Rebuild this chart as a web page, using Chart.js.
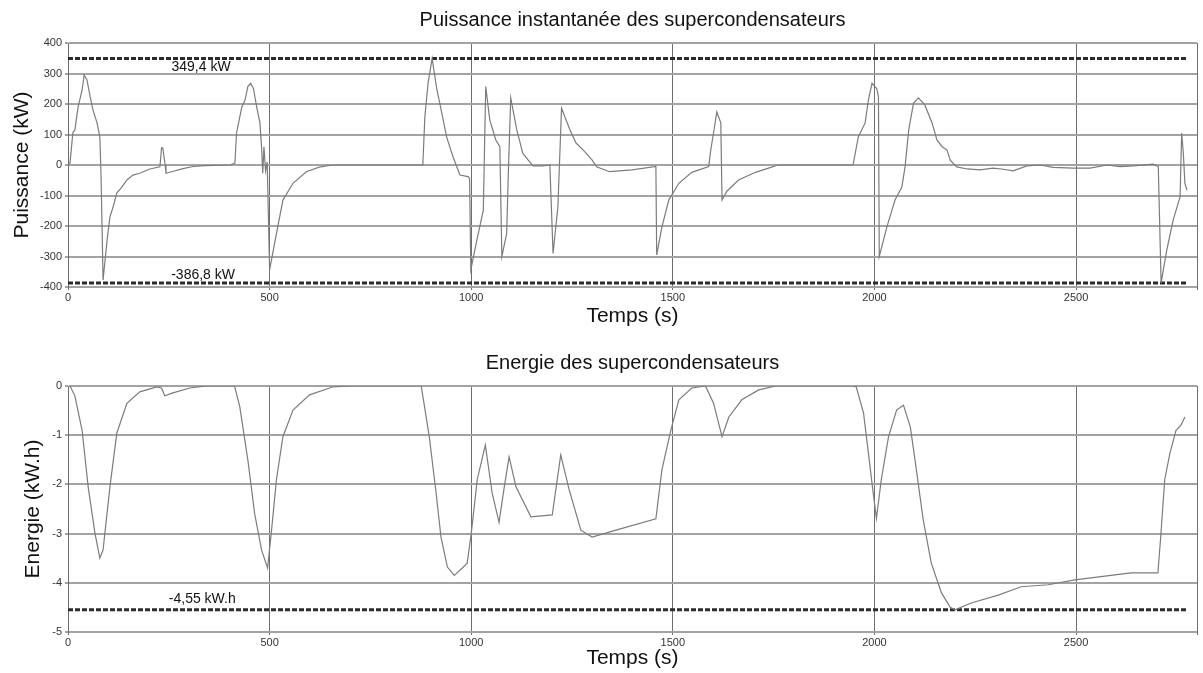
<!DOCTYPE html>
<html lang="fr">
<head>
<meta charset="utf-8">
<title>Supercondensateurs</title>
<script src="https://cdn.jsdelivr.net/npm/chart.js@4.4.1/dist/chart.umd.min.js"></script>
<style>
  html, body { margin: 0; padding: 0; background: #fff; }
  #wrap { position: relative; width: 1203px; height: 673px; overflow: hidden; }
  #powerChart { position: absolute; left: 0; top: 0; }
  #energyChart { position: absolute; left: 0; top: 335px; }
</style>
</head>
<body>
<div id="wrap">
  <canvas id="powerChart" width="1203" height="335"></canvas>
  <canvas id="energyChart" width="1203" height="338"></canvas>
</div>
<script>
// Puissance des supercondensateurs (kW) en fonction du temps (s)
const timeP = [
  0, 5, 12, 17, 25, 35, 40, 47, 55, 62, 72, 79, 82, 87, 97, 104, 112, 121, 134, 146,
  161, 178, 203, 228, 232, 235, 241, 243, 257, 285, 310, 340, 402, 414, 418, 431, 439, 446, 453, 460,
  468, 476, 480, 483, 486, 490, 494, 500, 517, 533, 558, 591, 623, 656, 880, 885, 893, 903, 915, 922,
  939, 955, 972, 992, 996, 999, 1014, 1030, 1036, 1046, 1061, 1071, 1076, 1088, 1092, 1098, 1113, 1128, 1153, 1178,
  1195, 1203, 1215, 1224, 1245, 1260, 1278, 1300, 1311, 1343, 1399, 1458, 1460, 1473, 1490, 1515, 1547, 1589, 1594, 1601,
  1609, 1619, 1622, 1634, 1663, 1705, 1745, 1760, 1947, 1960, 1977, 1985, 1994, 2006, 2010, 2012, 2031, 2051, 2068, 2076,
  2085, 2097, 2109, 2125, 2143, 2155, 2168, 2180, 2188, 2204, 2230, 2262, 2294, 2320, 2344, 2378, 2411, 2443, 2493, 2535,
  2577, 2609, 2642, 2691, 2704, 2711, 2725, 2741, 2758, 2762, 2766, 2770, 2775
];
const powerKW = [
  0, 6, 105, 115, 190, 246, 295, 279, 223, 180, 138, 92, -38, -377, -246, -170, -137, -92, -72, -49,
  -33, -27, -13, -6, 56, 56, 0, -27, -22, -12, -5, -2, 0, 6, 105, 190, 213, 257, 268, 250,
  190, 138, 60, -27, 60, -20, 10, -344, -224, -115, -60, -22, -7, 0, 0, 157, 268, 349.4, 246, 203,
  92, 26, -33, -38, -45, -344, -246, -148, 257, 148, 82, 60, -300, -224, -27, 220, 115, 38, -3, -3,
  0, -290, -137, 186, 115, 72, 49, 16, -6, -22, -16, -5, -295, -203, -115, -60, -24, -5, 49, 105,
  174, 138, -115, -86, -49, -24, -7, 0, 0, 92, 138, 213, 268, 250, 223, -300, -203, -115, -72, -6,
  115, 203, 220, 197, 138, 82, 60, 49, 16, -6, -13, -16, -10, -14, -19, -3, 0, -8, -10, -10,
  0, -5, -3, 3, -5, -386.8, -279, -180, -105, 105, 40, -60, -82
];

// Energie des supercondensateurs (kW.h) en fonction du temps (s)
const timeE = [
  0, 5, 17, 35, 50, 67, 79, 87, 104, 121, 146, 178, 220, 232, 240, 260, 302, 344, 413, 426,
  446, 463, 480, 495, 504, 517, 533, 558, 599, 656, 700, 876, 896, 913, 925, 941, 958, 978, 990, 1000,
  1015, 1035, 1052, 1069, 1082, 1094, 1111, 1148, 1201, 1222, 1243, 1272, 1300, 1359, 1458, 1473, 1495, 1515, 1547, 1581,
  1601, 1622, 1639, 1671, 1713, 1755, 1945, 1955, 1973, 1985, 1997, 2005, 2017, 2035, 2055, 2072, 2089, 2104, 2121, 2141,
  2166, 2188, 2200, 2240, 2307, 2364, 2431, 2497, 2537, 2636, 2703, 2710, 2720, 2733, 2748, 2760, 2770
];
const energyKWh = [
  0, 0, -0.2, -0.9, -2.05, -3.0, -3.5, -3.33, -2.05, -0.96, -0.35, -0.12, -0.02, -0.04, -0.2, -0.14, -0.04, 0, 0, -0.42,
  -1.5, -2.6, -3.33, -3.7, -3.0, -1.9, -1.03, -0.49, -0.18, -0.02, 0, 0, -1.03, -2.18, -3.07, -3.68, -3.85, -3.7, -3.6, -3.0,
  -1.9, -1.2, -2.18, -2.77, -2.05, -1.44, -2.05, -2.66, -2.62, -1.4, -2.11, -2.93, -3.07, -2.93, -2.7, -1.7, -0.9, -0.28, -0.04, 0,
  -0.35, -1.03, -0.63, -0.28, -0.08, 0, 0, -0.02, -0.55, -1.36, -2.18, -2.69, -1.9, -1.03, -0.49, -0.39, -0.83, -1.7, -2.72, -3.6,
  -4.2, -4.5, -4.55, -4.41, -4.25, -4.08, -4.04, -3.94, -3.9, -3.8, -3.8, -3.07, -1.9, -1.36, -0.9, -0.8, -0.63
];

// Graduations de l'axe du temps (2800 = bord droit, sans libellé)
const timeTicks = [0, 500, 1000, 1500, 2000, 2500, 2800];

// Limites atteintes
const powerMax = 349.4;
const powerMin = -386.8;
const energyMin = -4.55;

const FONT = '"Liberation Sans", Arial, Helvetica, sans-serif';
const tEnd = timeP[timeP.length - 1];

function pairs(xs, ys) {
  return xs.map((x, i) => ({ x, y: ys[i] }));
}

function limitLine(value) {
  return {
    data: [{ x: 0, y: value }, { x: tEnd, y: value }],
    borderColor: '#2b2b2b',
    borderWidth: 3,
    borderDash: [5, 2],
    pointRadius: 0,
  };
}

// texte des limites, posé juste au-dessus / au-dessous des lignes pointillées
const limitLabels = {
  id: 'limitLabels',
  afterDatasetsDraw(chart, args, opts) {
    const { ctx, scales: { x, y } } = chart;
    ctx.save();
    ctx.font = '14px ' + FONT;
    ctx.fillStyle = '#111';
    ctx.textAlign = 'center';
    ctx.textBaseline = 'middle';
    (opts.items || []).forEach((it) => {
      ctx.fillText(it.text, x.getPixelForValue(it.at), y.getPixelForValue(it.value) + it.dy);
    });
    ctx.restore();
  },
};

function makeChart(id, cfg) {
  const ctx = document.getElementById(id).getContext('2d');
  return new Chart(ctx, {
    type: 'line',
    data: {
      datasets: [
        {
          data: cfg.series,
          borderColor: '#7c7c7c',
          borderWidth: 1.2,
          pointRadius: 0,
          tension: 0,
        },
        ...cfg.limits.map(limitLine),
      ],
    },
    options: {
      responsive: false,
      animation: false,
      devicePixelRatio: 1,
      parsing: false,
      layout: { padding: { left: 0, right: 6, top: 0, bottom: 0 } },
      scales: {
        x: {
          type: 'linear',
          min: 0,
          max: 2800,
          afterFit: (scale) => { scale.height = cfg.xHeight; },
          afterBuildTicks: (scale) => { scale.ticks = timeTicks.map((value) => ({ value })); },
          ticks: {
            maxRotation: 0,
            autoSkip: false,
            padding: 1,
            color: '#333',
            font: { family: FONT, size: 11 },
            callback: (v) => (v % 500 === 0 ? v : ''),
          },
          grid: { color: '#6e6e6e', lineWidth: 1, tickLength: 3 },
          border: { display: false },
          title: {
            display: true,
            text: 'Temps (s)',
            color: '#111',
            font: { family: FONT, size: 21, lineHeight: 1.2 },
            padding: { top: 0, bottom: cfg.xTitlePad },
          },
        },
        y: {
          type: 'linear',
          min: cfg.yMin,
          max: cfg.yMax,
          afterFit: (scale) => { scale.width = 68; },
          ticks: {
            stepSize: cfg.yStep,
            padding: 3,
            color: '#333',
            font: { family: FONT, size: 11 },
          },
          grid: { color: '#a3a3a3', lineWidth: 2, tickLength: 3 },
          border: { display: true, color: '#6e6e6e', width: 1 },
          title: {
            display: true,
            text: cfg.yTitle,
            color: '#111',
            font: { family: FONT, size: 21, lineHeight: 1.2 },
            padding: { top: cfg.yTitlePad, bottom: 0 },
          },
        },
      },
      plugins: {
        legend: { display: false },
        tooltip: { enabled: false },
        title: {
          display: true,
          text: cfg.title,
          fullSize: false,
          color: '#111',
          font: { family: FONT, size: 20, weight: 'normal', lineHeight: 1.2 },
          padding: { top: cfg.titlePadTop, bottom: 11 },
        },
        limitLabels: { items: cfg.labels },
      },
    },
    plugins: [limitLabels],
  });
}

makeChart('powerChart', {
  title: 'Puissance instantanée des supercondensateurs',
  yTitle: 'Puissance (kW)',
  series: pairs(timeP, powerKW),
  limits: [powerMax, powerMin],
  labels: [
    { text: '349,4 kW', at: 330, value: powerMax, dy: 9 },
    { text: '-386,8 kW', at: 335, value: powerMin, dy: -8 },
  ],
  yMin: -400, yMax: 400, yStep: 100,
  titlePadTop: 8,
  xHeight: 48,
  xTitlePad: 6,
  yTitlePad: 10,
});

makeChart('energyChart', {
  title: 'Energie des supercondensateurs',
  yTitle: 'Energie (kW.h)',
  series: pairs(timeE, energyKWh),
  limits: [energyMin],
  labels: [
    { text: '-4,55 kW.h', at: 333, value: energyMin, dy: -11 },
  ],
  yMin: -5, yMax: 0, yStep: 1,
  titlePadTop: 16,
  xHeight: 41,
  xTitlePad: 2,
  yTitlePad: 21,
});
</script>
</body>
</html>
